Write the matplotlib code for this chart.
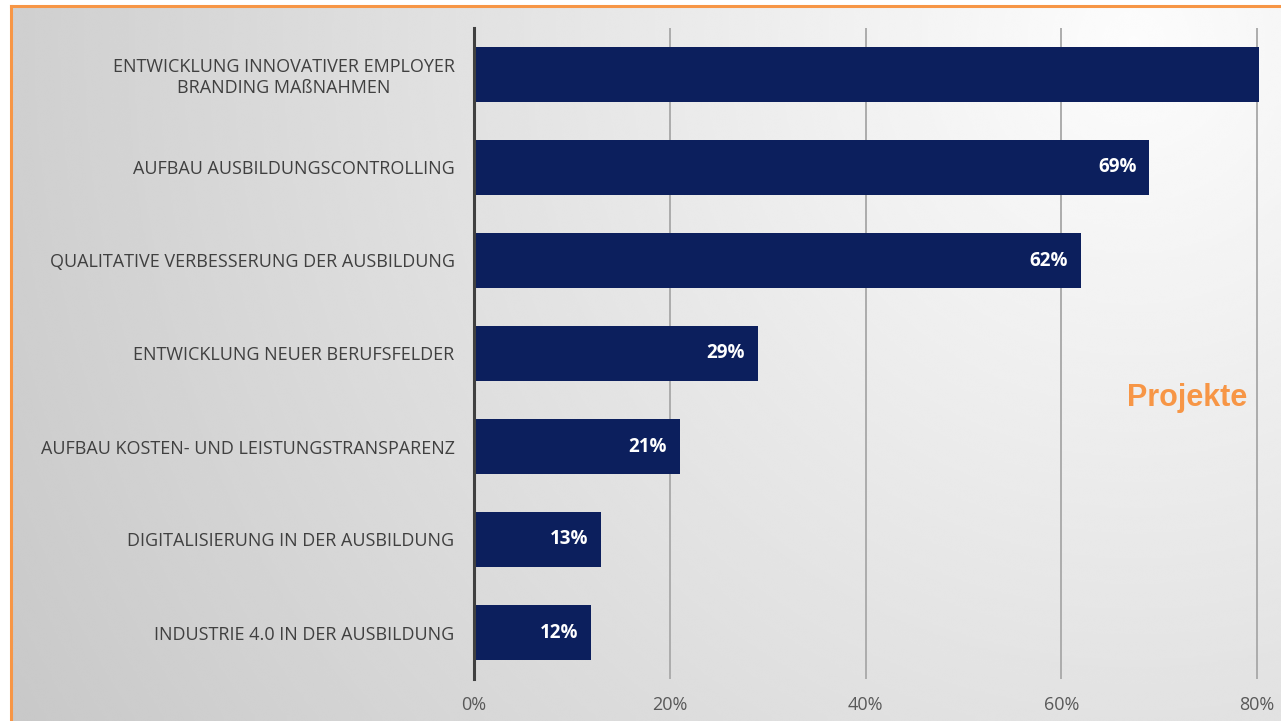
import numpy as np
import matplotlib.pyplot as plt
from matplotlib.lines import Line2D

plt.rcParams['font.family'] = ['Open Sans', 'DejaVu Sans']
plt.rcParams['font.stretch'] = 'normal'

categories = [
    "ENTWICKLUNG INNOVATIVER EMPLOYER\nBRANDING MAßNAHMEN",
    "AUFBAU AUSBILDUNGSCONTROLLING",
    "QUALITATIVE VERBESSERUNG DER AUSBILDUNG",
    "ENTWICKLUNG NEUER BERUFSFELDER",
    "AUFBAU KOSTEN- UND LEISTUNGSTRANSPARENZ",
    "DIGITALISIERUNG IN DER AUSBILDUNG",
    "INDUSTRIE 4.0 IN DER AUSBILDUNG",
]
values = [82, 69, 62, 29, 21, 13, 12]
show_label = [False, True, True, True, True, True, True]
x_ticks = [0, 20, 40, 60, 80]
x_tick_labels = ["0%", "20%", "40%", "60%", "80%"]

W, H = 1281, 721
fig = plt.figure(figsize=(W / 100, H / 100), dpi=100)
fig.patch.set_facecolor("white")

# grey backdrop, brightest towards the upper right
bg = fig.add_axes([11 / W, 0, 1 - 11 / W, (H - 6) / H])
yy, xx = np.mgrid[0:300, 0:600]
d = np.hypot((xx - 530) / 600, (yy - 15) / 300 * 0.55)
shade = np.clip(0.99 - 0.20 * d, 0.78, 1.0)
bg.imshow(shade, cmap="gray", vmin=0, vmax=1, aspect="auto",
          extent=[0, 1, 0, 1], origin="upper", interpolation="bicubic")
bg.set_xlim(0, 1)
bg.set_ylim(0, 1)
bg.axis("off")

# orange frame along top and left
fig.add_artist(Line2D([11 / W, 1], [(H - 6) / H] * 2, color="#f79646", lw=2.2))
fig.add_artist(Line2D([11 / W] * 2, [0, (H - 6) / H], color="#f79646", lw=2.2))

ax = fig.add_axes([474 / W, (H - 679) / H, (1259 - 474) / W, (679 - 28) / H])
ax.patch.set_alpha(0)
y = np.arange(len(categories))
ax.barh(y, values, height=0.6, color="#0c1f5d", zorder=3)
ax.set_ylim(len(categories) - 0.5, -0.5)
ax.set_xlim(0, 80.2)

for yi, v, show in zip(y, values, show_label):
    if show:
        ax.text(v - 1.3, yi, f"{v}%", ha="right", va="center", color="white",
                fontsize=13.5, fontweight="bold", zorder=4)

ax.set_yticks(y)
ax.set_yticklabels(categories, fontsize=13, color="#404040")
for lbl in ax.get_yticklabels():
    lbl.set_multialignment("center")
ax.tick_params(axis="y", length=0, pad=14)

ax.set_xticks(x_ticks)
ax.set_xticklabels(x_tick_labels, fontsize=13, color="#595959")
ax.tick_params(axis="x", length=0, pad=12)
ax.grid(axis="x", color="#acacac", lw=1.4, zorder=1)

for side in ["top", "right", "bottom"]:
    ax.spines[side].set_visible(False)
ax.spines["left"].set_color("#404040")
ax.spines["left"].set_linewidth(2.2)
ax.spines["left"].set_zorder(5)

fig.text(1247 / W, 1 - 398 / H, "Projekte", ha="right", va="center",
         color="#f79646", fontsize=22, fontweight="bold",
         family="Liberation Sans")

fig.savefig("out.png", dpi=100)
